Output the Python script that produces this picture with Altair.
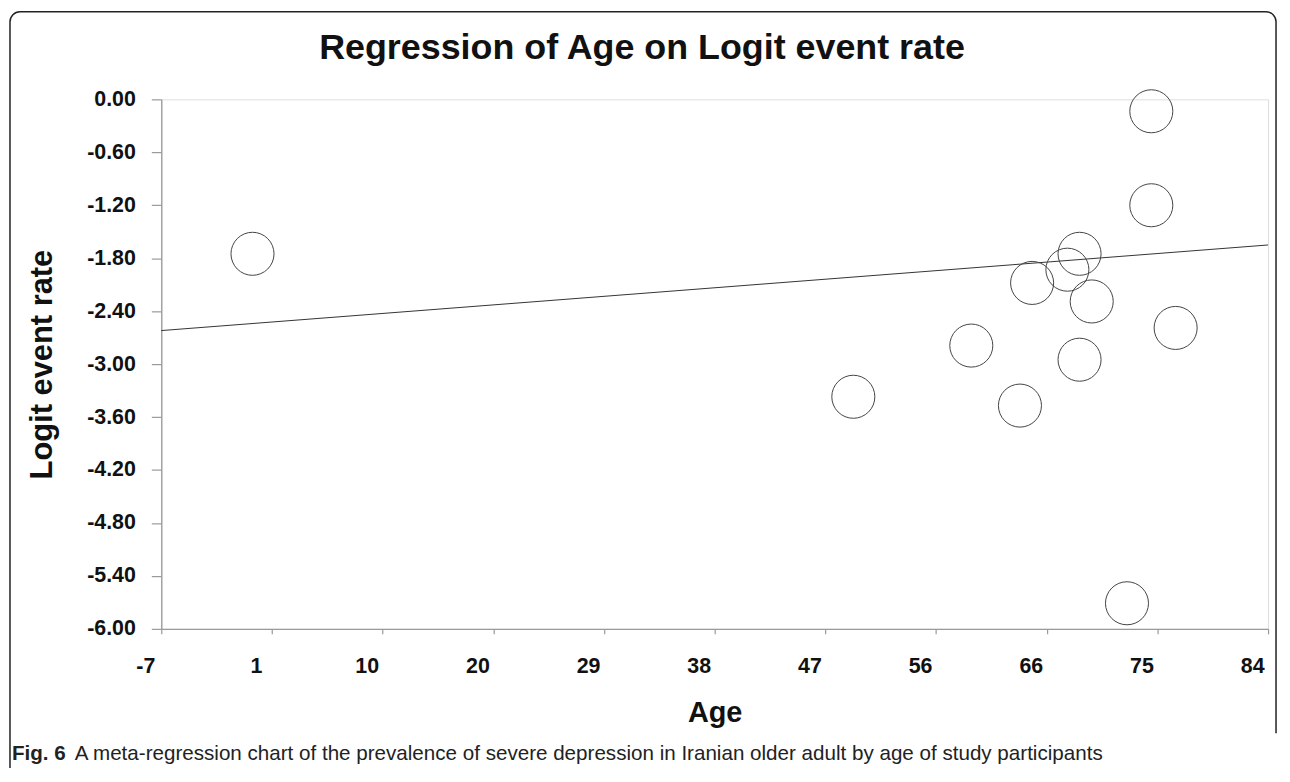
import altair as alt
import pandas as pd

# ---- data ----
ages = [0.5, 49.9, 59.6, 63.6, 64.6, 67.5, 68.5, 68.5, 69.5, 72.4, 74.4, 74.4, 76.4]
logits = [-1.75, -3.37, -2.79, -3.47, -2.08, -1.93, -1.75, -2.95, -2.29, -5.71, -0.135, -1.20, -2.59]

fit_age = [-7, 84]
fit_logit = [-2.62, -1.65]

x_tick_values = [-7, 2.1, 11.2, 20.3, 29.4, 38.5, 47.6, 56.7, 65.8, 74.9, 84]
x_tick_labels = ["-7", "1", "10", "20", "29", "38", "47", "56", "66", "75", "84"]
y_tick_values = [0, -0.6, -1.2, -1.8, -2.4, -3.0, -3.6, -4.2, -4.8, -5.4, -6.0]

title_text = "Regression of Age on Logit event rate"
x_title = "Age"
y_title = "Logit event rate"
caption_bold = "Fig. 6"
caption_text = "A meta-regression chart of the prevalence of severe depression in Iranian older adult by age of study participants"

FONT = "Liberation Sans"
GRAY = "#9a9a9a"

# label expression for the x axis
x_expr = "''"
for v, l in reversed(list(zip(x_tick_values, x_tick_labels))):
    x_expr = f"abs(datum.value - ({v})) < 0.01 ? '{l}' : ({x_expr})"

y_expr = "datum.value == 0 ? '0.00' : '-' + format(abs(datum.value), '.2f')"

x_axis = alt.Axis(
    values=x_tick_values, labelExpr=x_expr, labelOffset=-16, tickSize=5,
    tickColor=GRAY, domainColor=GRAY, domainWidth=1.3, tickWidth=1.2,
    labelFont=FONT, labelFontWeight="bold", labelFontSize=21.5, labelColor="#111",
    labelBaseline="middle", labelPadding=33, labelAngle=0, labelFlush=False,
    labelOverlap=False, grid=False, title=x_title, titleFont=FONT,
    titleFontSize=29, titleFontWeight="bold", titleColor="#111",
    titleBaseline="middle", titleY=84,
)
y_axis = alt.Axis(
    values=y_tick_values, labelExpr=y_expr, tickSize=10,
    tickColor=GRAY, domainColor=GRAY, domainWidth=1.3, tickWidth=1.2,
    labelFont=FONT, labelFontWeight="bold", labelFontSize=21.5, labelColor="#111",
    labelPadding=16, labelFlush=False, labelOverlap=False, grid=False,
    title=y_title, titleFont=FONT, titleFontSize=31, titleFontWeight="bold",
    titleColor="#111", titleAngle=270, titleBaseline="middle", titleX=-119, titleY=266,
)

x_enc = alt.X("Age:Q", scale=alt.Scale(domain=[-7, 84], nice=False, zero=False), axis=x_axis)
y_enc = alt.Y("Logit:Q", scale=alt.Scale(domain=[-6, 0], nice=False, zero=False), axis=y_axis)

pts_df = pd.DataFrame({"Age": ages, "Logit": logits})
fit_df = pd.DataFrame({"Age": fit_age, "Logit": fit_logit})

border = alt.Chart(alt.Data(values=[{}])).mark_rect(
    fillOpacity=0, stroke="#222", strokeWidth=1.5, cornerRadius=10
).encode(x=alt.value(-152), x2=alt.value(1120), y=alt.value(-88), y2=alt.value(720))

cover = alt.Chart(alt.Data(values=[{}])).mark_rect(color="white").encode(
    x=alt.value(1000), x2=alt.value(1140), y=alt.value(637), y2=alt.value(720)
)

title_mark = alt.Chart(alt.Data(values=[{"t": title_text}])).mark_text(
    align="center", baseline="middle", font=FONT, fontSize=36, fontWeight="bold", color="#111"
).encode(x=alt.value(483), y=alt.value(-52), text="t:N")

fit = alt.Chart(fit_df).mark_line(color="#333", strokeWidth=1).encode(x=x_enc, y=y_enc)

points = alt.Chart(pts_df).mark_point(
    shape="circle", filled=False, size=1870, color="#444", strokeWidth=1, opacity=1
).encode(x=x_enc, y=y_enc)

cap1 = alt.Chart(alt.Data(values=[{"t": caption_bold}])).mark_text(
    align="left", baseline="middle", font=FONT, fontSize=20.7, fontWeight="bold", color="#222"
).encode(x=alt.value(-150), y=alt.value(658), text="t:N")

cap2 = alt.Chart(alt.Data(values=[{"t": caption_text}])).mark_text(
    align="left", baseline="middle", font=FONT, fontSize=20.7, color="#222"
).encode(x=alt.value(-87), y=alt.value(658), text="t:N")

chart = alt.layer(border, cover, title_mark, fit, points, cap1, cap2).properties(
    width=1112,
    height=532,
    autosize=alt.AutoSizeParams(type="none"),
    padding={"left": 154, "top": 90, "right": 14, "bottom": 138},
).configure_view(stroke=GRAY, strokeWidth=1.3).configure(background="white")

chart.save("out.html", embed_options={"renderer": "svg", "actions": False})
